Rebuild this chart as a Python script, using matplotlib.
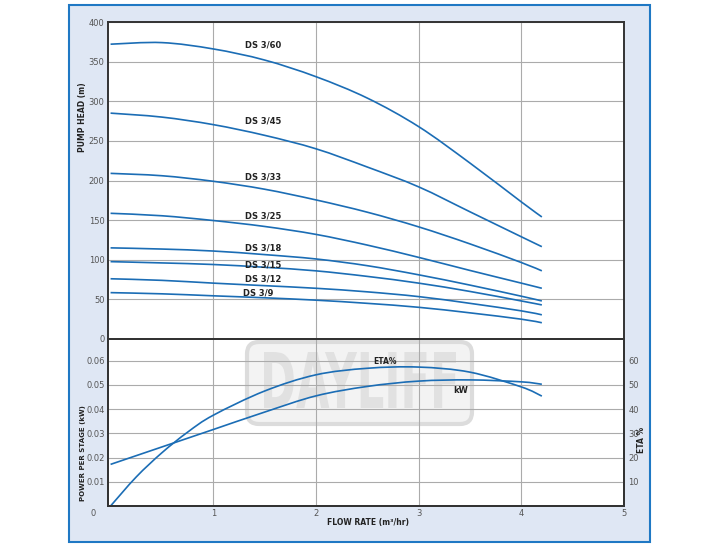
import matplotlib
matplotlib.use("Agg")
import matplotlib.pyplot as plt
from matplotlib.patches import Rectangle, FancyBboxPatch, PathPatch
from matplotlib.path import Path
from matplotlib.textpath import TextPath
from matplotlib.font_manager import FontProperties
from matplotlib.transforms import IdentityTransform, Affine2D

# ---------------- data ----------------
flow = [0, 0.5, 1, 1.5, 2, 2.5, 3, 3.5, 4, 4.2]
models = ["DS 3/60", "DS 3/45", "DS 3/33", "DS 3/25", "DS 3/18", "DS 3/15", "DS 3/12", "DS 3/9"]
head_ds360 = [372, 374, 366, 352, 331, 304, 268, 222, 173, 154]
head_ds345 = [285, 280, 270.5, 257, 240, 217, 192, 160.5, 129, 116.5]
head_ds333 = [209, 206, 199, 189, 175.5, 160, 141.5, 120, 96.5, 86]
head_ds325 = [158.6, 155.5, 149.5, 142, 132, 118.5, 103, 86.5, 70.5, 64]
head_ds318 = [115, 113.5, 111, 106.5, 101, 92.5, 81, 68, 54, 48]
head_ds315 = [97.6, 96, 94, 90.5, 86, 79, 70.5, 60, 48, 43]
head_ds312 = [76, 74, 70.5, 67.3, 64, 59.5, 53.5, 45, 35.5, 30.5]
head_ds39 = [58.5, 57, 54.5, 52, 49, 45, 40, 33, 25, 20.5]
heads = [head_ds360, head_ds345, head_ds333, head_ds325, head_ds318, head_ds315, head_ds312, head_ds39]
label_flow = [1.31, 1.31, 1.31, 1.31, 1.31, 1.31, 1.31, 1.285]
label_head = [371, 275, 204, 155.6, 115, 93.4, 75.3, 58.4]

flow_low = [0, 0.25, 0.5, 0.75, 1, 1.5, 2, 2.5, 3, 3.5, 4, 4.2]
power_kw = [0.0172, 0.0208, 0.0244, 0.028, 0.0316, 0.0388, 0.0455, 0.0494, 0.0516, 0.0521, 0.0513, 0.0503]
eta_pct = [0, 12, 22, 30.5, 37.5, 47.5, 54.2, 56.9, 57.4, 55.3, 49.2, 45.4]

head_ticks = [0, 50, 100, 150, 200, 250, 300, 350, 400]
power_ticks = [0.01, 0.02, 0.03, 0.04, 0.05, 0.06]
eta_ticks = [10, 20, 30, 40, 50, 60]
flow_ticks = [1, 2, 3, 4, 5]

# ---------------- style ----------------
W, H = 714, 550
BLUE = "#1b6db5"
GRID = "#ababab"
SPINE = "#333333"
TICKC = "#555555"


def smooth_curve(ax, xs, ys):
    """Draw a smooth curve through the data points (Catmull-Rom as cubic Bezier, in data coords)."""
    n = len(xs)
    verts = [(xs[0], ys[0])]
    codes = [Path.MOVETO]
    for i in range(n - 1):
        x0, y0 = (xs[i - 1], ys[i - 1]) if i > 0 else (xs[i], ys[i])
        x1, y1 = xs[i], ys[i]
        x2, y2 = xs[i + 1], ys[i + 1]
        x3, y3 = (xs[i + 2], ys[i + 2]) if i + 2 < n else (x2, y2)
        c1 = (x1 + (x2 - x0) / 6.0, y1 + (y2 - y0) / 6.0)
        c2 = (x2 - (x3 - x1) / 6.0, y2 - (y3 - y1) / 6.0)
        verts += [c1, c2, (x2, y2)]
        codes += [Path.CURVE4] * 3
    p = PathPatch(Path(verts, codes), facecolor="none", edgecolor=BLUE, linewidth=1.2,
                  transform=ax.transData, zorder=2)
    ax.add_patch(p)
    return p


fig = plt.figure(figsize=(W / 100, H / 100), dpi=100)
fig.patch.set_facecolor("white")

fig.patches.append(Rectangle((69 / W, 1 - 542 / H), 581 / W, 537 / H, transform=fig.transFigure,
                             facecolor="#dfe7f4", edgecolor="#1f78c4", linewidth=1.5, zorder=-5))

L = 108 / W
AW = (624 - 108) / W
ax1 = fig.add_axes([L, 1 - 339 / H, AW, (339 - 22) / H])
ax2 = fig.add_axes([L, 1 - 506 / H, AW, (506 - 339) / H])

for ax in (ax1, ax2):
    ax.set_xlim(-0.025, 5)
    ax.set_axisbelow(True)
    ax.grid(True, color=GRID, linewidth=0.8)
    for s in ax.spines.values():
        s.set_color(SPINE)
        s.set_linewidth(1.4)
    ax.tick_params(length=0, labelsize=6, colors=TICKC, pad=2.5)

# top: pump head
ax1.set_ylim(0, 400)
ax1.set_yticks(head_ticks)
ax1.set_xticks([1, 2, 3, 4])
ax1.set_xticklabels([])
for name, hd, lx, ly in zip(models, heads, label_flow, label_head):
    smooth_curve(ax1, flow, hd)
    ax1.text(lx, ly, name, ha="left", va="center", fontsize=6, fontweight="bold", color="#222222")

# bottom: power and efficiency
ax2.set_ylim(0, 0.069)
ax2.set_yticks(power_ticks)
ax2.set_yticklabels([f"{v:.2f}" for v in power_ticks])
ax2.set_xticks(flow_ticks)
ax2.set_xticklabels([str(v) for v in flow_ticks])
smooth_curve(ax2, flow_low, power_kw)
ax2.text(3.335, 0.0478, "kW", ha="left", va="center", fontsize=6, fontweight="bold", color="#222222")

ax3 = ax2.twinx()
ax3.set_ylim(0, 69)
ax3.set_yticks(eta_ticks)
ax3.tick_params(length=0, labelsize=6, colors=TICKC, pad=3)
for s in ax3.spines.values():
    s.set_color(SPINE)
    s.set_linewidth(1.4)
smooth_curve(ax3, flow_low, eta_pct)
ax3.text(2.56, 59.8, "ETA%", ha="left", va="center", fontsize=5.5, fontweight="bold", color="#222222")

# watermark
wm = FancyBboxPatch((247, H - 424), 225, 82, boxstyle="round,pad=0,rounding_size=12",
                    transform=IdentityTransform(), facecolor="#f3f3f3", edgecolor="#dcdcdc",
                    linewidth=3, zorder=0.2)
ax2.add_patch(wm)
tp = TextPath((0, 0), "DAYLIFF", size=1, prop=FontProperties(family="DejaVu Sans", weight="bold"))
ext = tp.get_extents()
x0, x1, y0, y1 = 264, 456, H - 408, H - 352
tr = Affine2D().translate(-ext.x0, -ext.y0).scale((x1 - x0) / ext.width, (y1 - y0) / ext.height).translate(x0, y0)
ax2.add_patch(PathPatch(tr.transform_path(tp), transform=IdentityTransform(), facecolor="#e1e1e1",
                        edgecolor="none", zorder=0.25))

# axis labels
fig.text(83 / W, 1 - 117 / H, "PUMP HEAD (m)", rotation=90, ha="center", va="center",
         fontsize=5.5, fontweight="bold", color="#222222")
fig.text(83 / W, 1 - 453 / H, "POWER PER STAGE (kW)", rotation=90, ha="center", va="center",
         fontsize=5.0, fontweight="bold", color="#222222")
fig.text(368 / W, 1 - 523 / H, "FLOW RATE (m³/hr)", ha="center", va="center",
         fontsize=5.5, fontweight="bold", color="#222222")
fig.text(641 / W, 1 - 440 / H, "ETA %", rotation=90, ha="center", va="center",
         fontsize=5.5, fontweight="bold", color="#222222")
fig.text(93 / W, 1 - 513 / H, "0", ha="center", va="center", fontsize=6, color=TICKC)

fig.savefig("out.png", dpi=100, facecolor="white")
